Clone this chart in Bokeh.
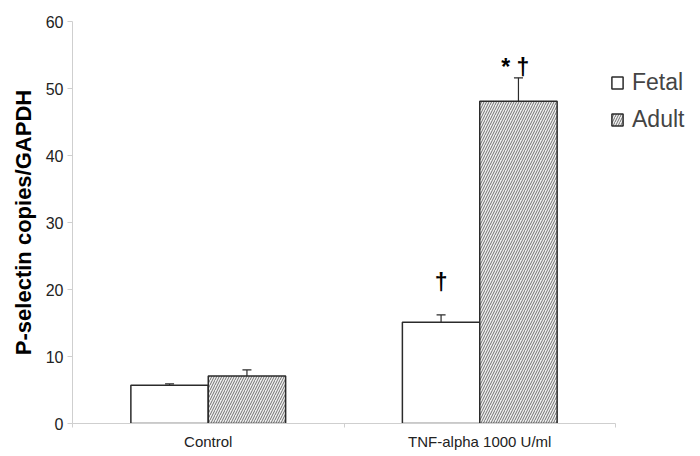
from bokeh.plotting import figure
from bokeh.models import (Range1d, FixedTicker, Whisker, TeeHead, ColumnDataSource,
                          Legend, LegendItem)
from bokeh.core.properties import value
from bokeh.embed import file_html
from bokeh.resources import INLINE

# ---- data ----
categories = ["Control", "TNF-alpha 1000 U/ml"]
fetal = [5.7, 15.1]
adult = [7.1, 48.1]
fetal_err = [0.2, 1.1]
adult_err = [0.9, 3.5]
fetal_marks = ["", "\u2020"]
adult_marks = ["", "*  \u2020"]
fetal_mark_y = [0, 21.1]
adult_mark_y = [0, 53.2]
y_ticks = [0, 10, 20, 30, 40, 50, 60]

FONT = "Liberation Sans"
bar_w = 0.285
centers = [i + 0.5 for i in range(len(categories))]
fx = [c - bar_w / 2 for c in centers]
ax = [c + bar_w / 2 for c in centers]

p = figure(width=700, height=456, output_backend="svg", toolbar_location=None,
           x_range=Range1d(0, 2.313), y_range=Range1d(0, 60),
           min_border_left=72, min_border_right=0, min_border_top=21, min_border_bottom=33)
p.outline_line_color = None
p.grid.visible = False

fsrc = ColumnDataSource(dict(x=fx, top=fetal, up=[v + e for v, e in zip(fetal, fetal_err)],
                             mark=fetal_marks, my=fetal_mark_y))
asrc = ColumnDataSource(dict(x=ax, top=adult, up=[v + e for v, e in zip(adult, adult_err)],
                             mark=adult_marks, my=adult_mark_y))

rf = p.vbar(x="x", top="top", bottom=0, width=bar_w, source=fsrc, fill_color="white",
            line_color="#2b2b2b", line_width=1.5)
ra = p.vbar(x="x", top="top", bottom=0, width=bar_w, source=asrc, fill_color="#f0f0f0",
            line_color="#2b2b2b", line_width=1.5, hatch_pattern="right_diagonal_line",
            hatch_color="#707070", hatch_scale=5, hatch_weight=1.0)

for src in (fsrc, asrc):
    w = Whisker(base="x", lower="top", upper="up", source=src, dimension="height",
                line_color="#2b2b2b", line_width=1.2, lower_head=None,
                upper_head=TeeHead(size=9, line_color="#2b2b2b", line_width=1.2))
    p.add_layout(w)
    p.text(x="x", y="my", text="mark", source=src, text_align="center",
           text_baseline="middle", text_font=value(FONT), text_font_style="bold",
           text_font_size="23px", text_color="black")

# y axis
ya = p.yaxis[0]
ya.ticker = FixedTicker(ticks=y_ticks)
ya.axis_label = "P-selectin copies/GAPDH"
ya.axis_label_text_font = FONT
ya.axis_label_text_font_style = "bold"
ya.axis_label_text_font_size = "22px"
ya.axis_label_text_color = "black"
ya.axis_label_standoff = 7
ya.major_label_text_font = FONT
ya.major_label_text_font_size = "16px"
ya.major_label_text_color = "#222222"
ya.axis_line_color = "#cfcfcf"
ya.major_tick_line_color = "#cfcfcf"
ya.major_tick_out = 5
ya.major_tick_in = 0
ya.minor_tick_line_color = None
ya.major_label_standoff = 4

# x axis
xa = p.xaxis[0]
xa.bounds = (0, 2)
xa.ticker = FixedTicker(ticks=centers, minor_ticks=[0, 1, 2])
xa.major_label_overrides = {c: lab for c, lab in zip(centers, categories)}
xa.major_label_text_font = FONT
xa.major_label_text_font_size = "15px"
xa.major_label_text_color = "#222222"
xa.axis_line_color = "#cfcfcf"
xa.major_tick_line_color = None
xa.major_tick_out = 0
xa.major_tick_in = 0
xa.minor_tick_line_color = "#cfcfcf"
xa.minor_tick_out = 4
xa.minor_tick_in = 0
xa.major_label_standoff = 5

legend = Legend(items=[LegendItem(label="Fetal", renderers=[rf]),
                       LegendItem(label="Adult", renderers=[ra])],
                location=(538, 290), border_line_color=None, background_fill_alpha=0,
                label_text_font=FONT, label_text_font_size="23px", label_standoff=8,
                glyph_width=14, glyph_height=15, spacing=10, padding=0, margin=0)
p.add_layout(legend)

open("out.html", "w").write(file_html(p, INLINE))
